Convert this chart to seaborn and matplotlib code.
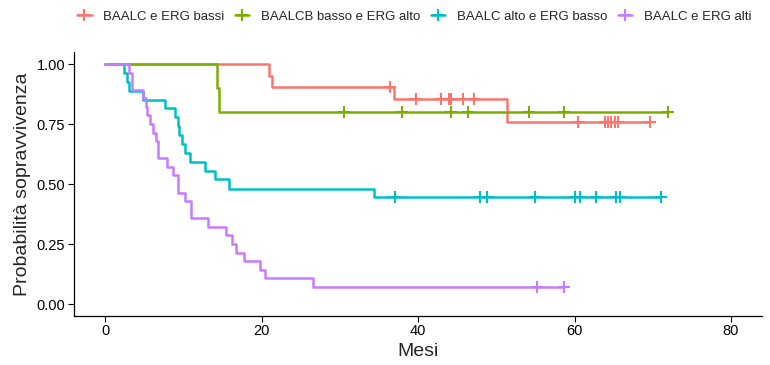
import numpy as np
import pandas as pd
import matplotlib
matplotlib.use("Agg")
import matplotlib.pyplot as plt
from matplotlib.lines import Line2D
import seaborn as sns

# Kaplan-Meier curves (months, survival)
groups = ["BAALC e ERG bassi", "BAALCB basso e ERG alto",
          "BAALC alto e ERG basso", "BAALC e ERG alti"]
colors = ["#F8766D", "#7CAE00", "#00BFC4", "#C77CFF"]

red_times = [21.0, 21.4, 36.9, 51.4]
red_surv = [0.952, 0.905, 0.855, 0.760]
red_cens = [36.4, 39.8, 43.0, 43.9, 44.2, 45.8, 47.2, 60.5, 63.9, 64.3,
            64.7, 65.2, 65.6, 69.6]

green_times = [14.3, 14.6]
green_surv = [0.9, 0.8]
green_cens = [30.5, 37.9, 44.2, 46.4, 54.2, 58.6, 72.0]

cyan_times = [2.4, 2.8, 3.1, 4.9, 7.7, 9.0, 9.3, 9.5, 9.8, 10.2, 10.9,
              12.8, 14.1, 15.9, 34.4]
cyan_surv = [0.963, 0.926, 0.889, 0.852, 0.815, 0.778, 0.741, 0.704, 0.667,
             0.630, 0.593, 0.556, 0.519, 0.481, 0.447]
cyan_cens = [37.1, 47.9, 48.8, 54.9, 60.1, 60.7, 62.7, 65.3, 65.8, 71.1]

purple_times = [3.1, 3.4, 4.8, 5.2, 5.4, 5.8, 6.1, 6.5, 6.8, 7.9, 8.7, 9.3,
                10.2, 11.0, 13.1, 15.4, 16.2, 16.7, 17.7, 19.8, 20.5, 26.6]
purple_surv = [0.964, 0.893, 0.857, 0.821, 0.786, 0.750, 0.714, 0.679, 0.607,
               0.571, 0.536, 0.464, 0.429, 0.357, 0.321, 0.286, 0.250, 0.214,
               0.179, 0.143, 0.107, 0.071]
purple_cens = [55.2, 58.6]

x_ticks = [0, 20, 40, 60, 80]
y_ticks = [0.0, 0.25, 0.5, 0.75, 1.0]


def build_curve(name, times, surv, cens):
    end = max(max(times), max(cens))
    x = [0.0] + list(times) + [end]
    y = [1.0] + list(surv) + [surv[-1]]
    curve = pd.DataFrame({"time": x, "surv": y, "group": name})
    # survival at each censoring time = last step value before it
    idx = np.searchsorted(np.array(x), np.array(cens), side="right") - 1
    marks = pd.DataFrame({"time": cens, "surv": np.array(y)[idx], "group": name})
    return curve, marks


data = [
    (groups[0], red_times, red_surv, red_cens),
    (groups[1], green_times, green_surv, green_cens),
    (groups[2], cyan_times, cyan_surv, cyan_cens),
    (groups[3], purple_times, purple_surv, purple_cens),
]

sns.set_style("white")
plt.rcParams["font.family"] = ["Liberation Sans", "DejaVu Sans"]

fig = plt.figure(figsize=(7.7, 3.65), dpi=100)
ax = fig.add_axes([73.7 / 770, 49 / 365, 688.6 / 770, 264 / 365])

for (name, t, s, c), col in zip(data, colors):
    curve, marks = build_curve(name, t, s, c)
    sns.lineplot(data=curve, x="time", y="surv", ax=ax, color=col,
                 drawstyle="steps-post", estimator=None, sort=False,
                 linewidth=1.8, legend=False)
    sns.scatterplot(data=marks, x="time", y="surv", ax=ax, color=col,
                    marker="+", s=65, linewidth=1.5, legend=False, zorder=3)

ax.set_xlim(-4, 84)
ax.set_ylim(-0.05, 1.05)
ax.set_xticks(x_ticks)
ax.set_yticks(y_ticks)
ax.set_yticklabels([f"{v:.2f}" for v in y_ticks])
ax.tick_params(axis="both", labelsize=10.5, length=4, width=0.8,
               color="black", labelcolor="black", direction="out",
               left=True, bottom=True, pad=2)
for side in ["top", "right"]:
    ax.spines[side].set_visible(False)
for side in ["left", "bottom"]:
    ax.spines[side].set_color("black")
    ax.spines[side].set_linewidth(0.9)

ax.set_xlabel("Mesi", fontsize=14, labelpad=3)
ax.set_ylabel("Probabilità sopravvivenza", fontsize=14, labelpad=4)

handles = [Line2D([0], [0], color=col, lw=1.8, marker="+", markersize=8,
                  markeredgewidth=1.5) for col in colors]
fig.legend(handles, groups, loc="center left",
           bbox_to_anchor=(77 / 770, 1 - 17 / 365), ncol=4, frameon=False,
           fontsize=9.5, handlelength=1.1, handletextpad=0.9,
           columnspacing=0.77, borderpad=0, borderaxespad=0)

fig.savefig("out.png", dpi=100)
